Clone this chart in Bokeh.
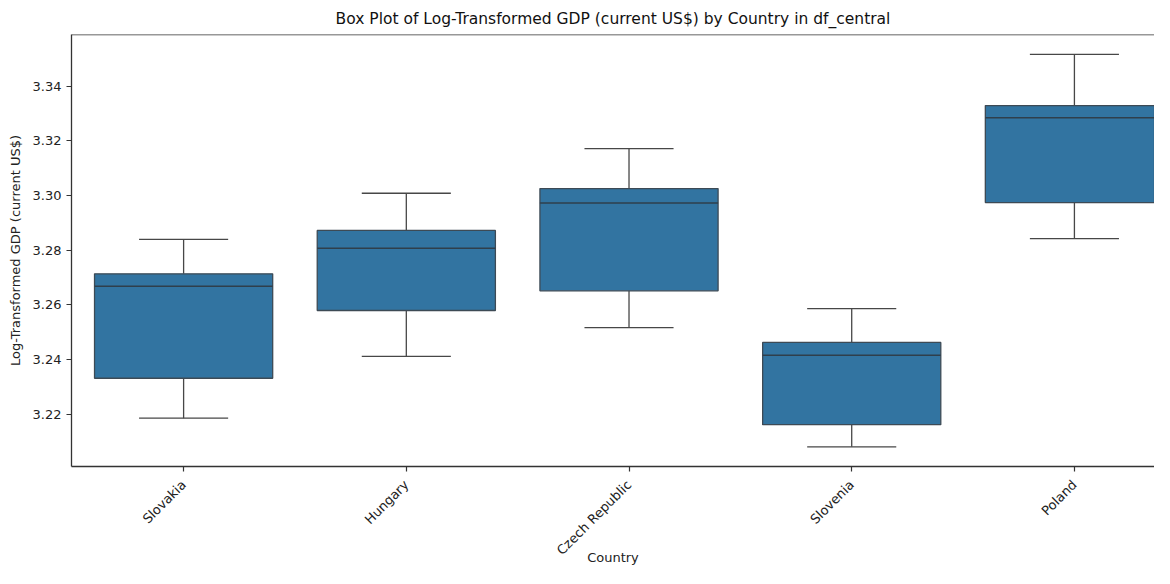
import numpy as np
from bokeh.plotting import figure
from bokeh.models import Range1d, FixedTicker, Span, ColumnDataSource, PrintfTickFormatter
from bokeh.embed import file_html
from bokeh.resources import INLINE
import math

countries = ["Slovakia", "Hungary", "Czech Republic", "Slovenia", "Poland"]
whisker_low = [3.2185, 3.2411, 3.2516, 3.2080, 3.2842]
q1 = [3.2331, 3.2579, 3.2651, 3.2161, 3.2974]
median = [3.2668, 3.2807, 3.2972, 3.2415, 3.3284]
q3 = [3.2713, 3.2872, 3.3025, 3.2462, 3.3329]
whisker_high = [3.2839, 3.3008, 3.3171, 3.2586, 3.3516]
y_ticks = [3.22, 3.24, 3.26, 3.28, 3.30, 3.32, 3.34]

FONT = "DejaVu Sans"
BOX = "#3274a1"
LINE = "#474747"

idx = np.arange(len(countries))
src = ColumnDataSource(dict(
    x=idx, lo=whisker_low, q1=q1, med=median, q3=q3, hi=whisker_high,
    xl=idx - 0.4, xr=idx + 0.4, cl=idx - 0.2, cr=idx + 0.2,
))

p = figure(width=1154, height=568, output_backend="svg", toolbar_location=None,
           x_range=Range1d(-0.5034, 4.3596), y_range=Range1d(3.2008, 3.3589),
           title="Box Plot of Log-Transformed GDP (current US$) by Country in df_central",
           min_border_left=71, min_border_right=0, min_border_top=33, min_border_bottom=0)

p.title.align = "center"
p.title.text_font = FONT
p.title.text_font_size = "15.5px"
p.title.text_font_style = "normal"
p.title.text_color = "#111111"
p.title.standoff = 14

p.outline_line_color = None
p.xgrid.visible = False
p.ygrid.visible = False
p.background_fill_color = "white"

# whiskers
p.segment(x0="x", y0="q3", x1="x", y1="hi", source=src, line_color=LINE, line_width=1.3)
p.segment(x0="x", y0="lo", x1="x", y1="q1", source=src, line_color=LINE, line_width=1.3)
# caps
p.segment(x0="cl", y0="hi", x1="cr", y1="hi", source=src, line_color=LINE, line_width=1.3)
p.segment(x0="cl", y0="lo", x1="cr", y1="lo", source=src, line_color=LINE, line_width=1.3)
# boxes
p.vbar(x="x", top="q3", bottom="q1", width=0.8, source=src,
       fill_color=BOX, line_color="#3d4a55", line_width=1.3)
# median
p.segment(x0="xl", y0="med", x1="xr", y1="med", source=src, line_color="#2f3f4c", line_width=1.5)

# top spine
p.add_layout(Span(location=3.3589, dimension="width", line_color="#333333", line_width=1.3))

p.xaxis.ticker = FixedTicker(ticks=list(idx))
p.xaxis.major_label_overrides = {int(i): c for i, c in zip(idx, countries)}
p.xaxis.major_label_orientation = math.pi / 4
p.yaxis.ticker = FixedTicker(ticks=y_ticks)
p.yaxis.formatter = PrintfTickFormatter(format="%.2f")

for ax in (p.xaxis[0], p.yaxis[0]):
    ax.axis_line_color = "#333333"
    ax.axis_line_width = 1.3
    ax.major_tick_line_color = "#333333"
    ax.major_tick_line_width = 1.2
    ax.major_tick_out = 5
    ax.major_tick_in = 0
    ax.minor_tick_line_color = None
    ax.major_label_text_font = FONT
    ax.major_label_text_font_size = "13px"
    ax.major_label_text_color = "#222222"
    ax.axis_label_text_font = FONT
    ax.axis_label_text_font_size = "13px"
    ax.axis_label_text_font_style = "normal"
    ax.axis_label_text_color = "#222222"

p.xaxis.major_label_standoff = 11
p.yaxis.major_label_standoff = 5
p.xaxis.axis_label = "Country"
p.xaxis.axis_label_standoff = -16
p.yaxis.axis_label = "Log-Transformed GDP (current US$)"
p.yaxis.axis_label_standoff = 7

open("out.html", "w").write(file_html(p, INLINE))
